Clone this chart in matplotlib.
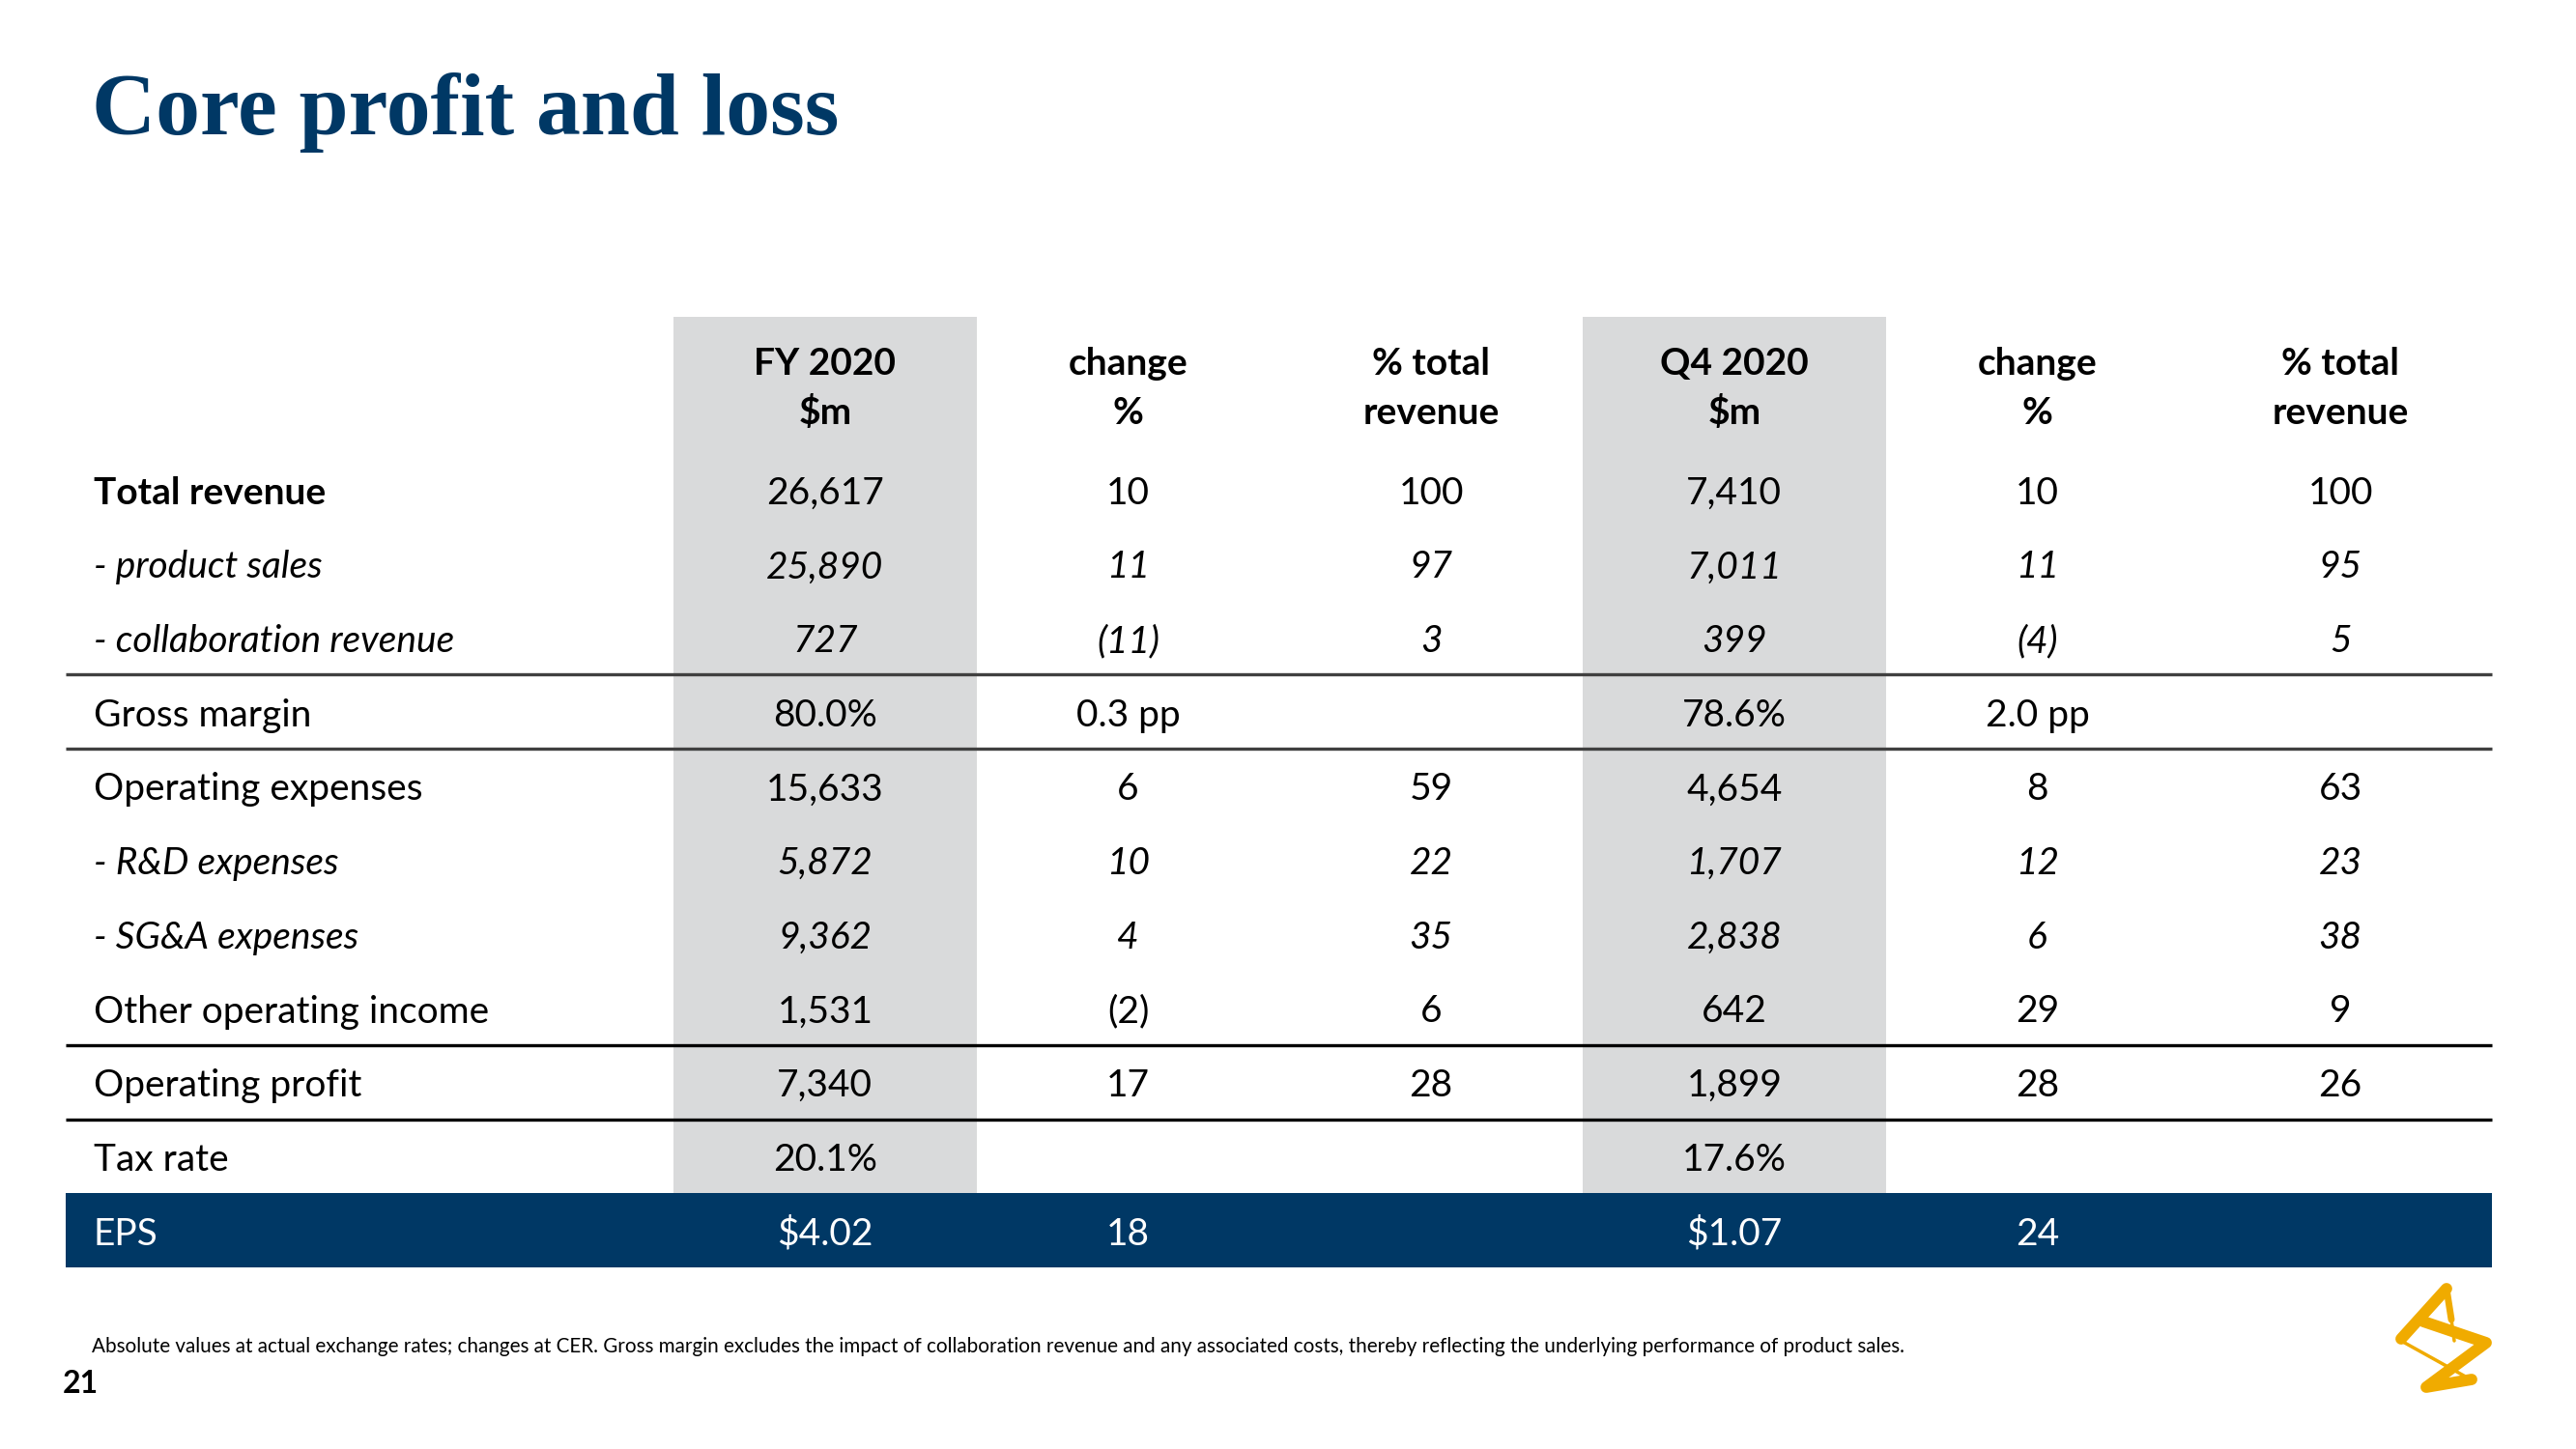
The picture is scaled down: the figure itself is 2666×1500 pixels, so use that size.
import matplotlib
matplotlib.use("Agg")
import matplotlib.pyplot as plt
from matplotlib.patches import Rectangle

# ---------------- data ----------------
title = "Core profit and loss"
headers = [("FY 2020", "$m"), ("change", "%"), ("% total", "revenue"),
           ("Q4 2020", "$m"), ("change", "%"), ("% total", "revenue")]
row_labels = ["Total revenue", "- product sales", "- collaboration revenue",
              "Gross margin", "Operating expenses", "- R&D expenses",
              "- SG&A expenses", "Other operating income", "Operating profit",
              "Tax rate", "EPS"]
fy_value = ["26,617", "25,890", "727", "80.0%", "15,633", "5,872", "9,362",
            "1,531", "7,340", "20.1%", "$4.02"]
fy_change = ["10", "11", "(11)", "0.3 pp", "6", "10", "4", "(2)", "17", "", "18"]
fy_pct_total = ["100", "97", "3", "", "59", "22", "35", "6", "28", "", ""]
q4_value = ["7,410", "7,011", "399", "78.6%", "4,654", "1,707", "2,838",
            "642", "1,899", "17.6%", "$1.07"]
q4_change = ["10", "11", "(4)", "2.0 pp", "8", "12", "6", "29", "28", "", "24"]
q4_pct_total = ["100", "95", "5", "", "63", "23", "38", "9", "26", "", ""]
italic_rows = ["- product sales", "- collaboration revenue",
               "- R&D expenses", "- SG&A expenses"]
bold_label_rows = ["Total revenue"]
rule_after = ["- collaboration revenue", "Gross margin",
              "Other operating income", "Operating profit"]
footnote = ("Absolute values at actual exchange rates; changes at CER. Gross margin "
            "excludes the impact of collaboration revenue and any associated costs, "
            "thereby reflecting the underlying performance of product sales.")
page_number = "21"

columns = [fy_value, fy_change, fy_pct_total, q4_value, q4_change, q4_pct_total]
shaded_cols = [0, 3]

# ---------------- style / layout ----------------
W, H = 2666, 1500
NAVY = "#003865"
GRAY = "#D9DADB"
GOLD = "#F0AB00"
FONT = ["Lato", "DejaVu Sans"]

tbl_left, tbl_right = 68, 2579
label_x = 97
col_left = 697
col_w = (tbl_right - col_left) / 6
hdr_top = 328
row_top0 = 468.4
row_h = 76.68
body_size = 28
cap_half = 15

fig = plt.figure(figsize=(W / 100, H / 100), dpi=100)
ax = fig.add_axes([0, 0, 1, 1])
ax.set_xlim(0, W)
ax.set_ylim(H, 0)
ax.axis("off")

# title
ax.text(95, 139, title, fontsize=66, fontweight="bold", color=NAVY,
        family=["Liberation Serif", "DejaVu Serif"], va="baseline", ha="left")

n = len(row_labels)

# shaded columns (stop at EPS row)
for c in shaded_cols:
    ax.add_patch(Rectangle((col_left + c * col_w, hdr_top), col_w,
                           row_top0 + (n - 1) * row_h - hdr_top,
                           facecolor=GRAY, edgecolor="none", zorder=1))

# EPS band
ax.add_patch(Rectangle((tbl_left, row_top0 + (n - 1) * row_h), tbl_right - tbl_left,
                       row_h, facecolor=NAVY, edgecolor="none", zorder=2))

# headers
for c, (l1, l2) in enumerate(headers):
    cx = col_left + (c + 0.5) * col_w
    ax.text(cx, 388, l1, fontsize=body_size, fontweight="bold", family=FONT,
            ha="center", va="baseline", color="black", zorder=5, parse_math=False)
    ax.text(cx, 439, l2, fontsize=body_size, fontweight="bold", family=FONT,
            ha="center", va="baseline", color="black", zorder=5, parse_math=False)

# body rows
for i, lab in enumerate(row_labels):
    yc = row_top0 + (i + 0.5) * row_h
    yb = yc + cap_half
    style = "italic" if lab in italic_rows else "normal"
    weight = "bold" if lab in bold_label_rows else "normal"
    color = "white" if i == n - 1 else "black"
    ax.text(label_x, yb, lab, fontsize=body_size, family=FONT, style=style,
            fontweight=weight, color=color, ha="left", va="baseline", zorder=5,
            parse_math=False)
    for c, col in enumerate(columns):
        cx = col_left + (c + 0.5) * col_w
        ax.text(cx, yb, col[i], fontsize=body_size, family=FONT, style=style,
                color=color, ha="center", va="baseline", zorder=5,
                parse_math=False)
    if lab in rule_after:
        yl = row_top0 + (i + 1) * row_h
        lc = "#404040" if i < 4 else "black"
        ax.plot([tbl_left, tbl_right], [yl, yl], color=lc, lw=2.4,
                solid_capstyle="butt", zorder=4)

# footnote & page number
ax.text(95, 1400, footnote, fontsize=14.9, family=FONT, color="black",
        ha="left", va="baseline", parse_math=False)
ax.text(65, 1442, page_number, fontsize=23, fontweight="bold", family=FONT,
        color="black", ha="left", va="baseline")

# logo (stylised AZ symbol)
thick = dict(color=GOLD, lw=8.5, solid_capstyle="round", solid_joinstyle="round", zorder=6)
mid = dict(color=GOLD, lw=5, solid_capstyle="round", zorder=6)
thin = dict(color=GOLD, lw=2.5, solid_capstyle="round", zorder=6)
ax.plot([2532, 2485], [1334, 1386], **thick)
ax.plot([2532, 2537], [1334, 1366], **mid)
ax.plot([2537, 2540], [1366, 1388], **thin)
ax.plot([2485, 2557], [1388, 1428], **thin)
ax.plot([2508, 2573, 2511, 2558], [1368, 1390, 1436, 1428], **thick)

fig.savefig("out.png", dpi=100)
